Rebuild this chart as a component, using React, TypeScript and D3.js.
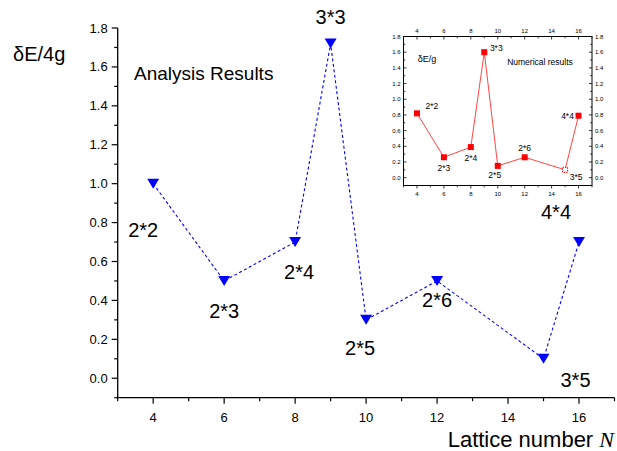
import React from "react";
import * as d3 from "d3";

const latticeN = [4, 6, 8, 9, 10, 12, 15, 16];
const latticeLabels = ["2*2", "2*3", "2*4", "3*3", "2*5", "2*6", "3*5", "4*4"];
const analysisValues = [1.0, 0.5, 0.7, 1.72, 0.3, 0.5, 0.1, 0.7];
const numericalValues = [0.82, 0.26, 0.39, 1.6, 0.15, 0.26, 0.1, 0.79];
const xTickValues = [4, 6, 8, 10, 12, 14, 16];
const yTickValues = [0.0, 0.2, 0.4, 0.6, 0.8, 1.0, 1.2, 1.4, 1.6, 1.8];

// label offsets (px) relative to marker
const mainLabelOffsets: [number, number][] = [
  [-10, 46], [0, 30], [4, 30], [0, -27], [-6, 28], [0, 19], [32, 21], [-23, -30],
];
const insetLabelOffsets: [number, number][] = [
  [15, -7], [0, 11], [0, 11], [12, -4], [-3, 9], [0, -9], [11, 7], [-11, 0],
];

const FONT = "'Liberation Sans', Arial, Helvetica, sans-serif";

export default function App() {
  const W = 617, H = 451;
  const x = d3.scaleLinear().domain([3, 17]).range([117.7, 614.5]);
  const y = d3.scaleLinear().domain([-0.1, 1.8]).range([397.7, 28]);

  const xi = d3.scaleLinear().domain([3, 17]).range([403.5, 592]);
  const yi = d3.scaleLinear().domain([-0.1, 1.8]).range([185.5, 36.5]);

  const line = d3.line<number>().x((_, i) => x(latticeN[i])).y((v) => y(v));
  const lineI = d3.line<number>().x((_, i) => xi(latticeN[i])).y((v) => yi(v));

  const xMinor = d3.range(3, 17.01, 1);
  const yMinor = d3.range(-0.1, 1.801, 0.1);

  const x0 = x.range()[0], x1 = x.range()[1];
  const y0 = y.range()[0], y1 = y.range()[1];
  const ix0 = xi.range()[0], ix1 = xi.range()[1];
  const iy0 = yi.range()[0], iy1 = yi.range()[1];

  const tri = (cx: number, cy: number) =>
    `M${cx - 6},${cy - 5}L${cx + 6},${cy - 5}L${cx},${cy + 5}Z`;

  return (
    <svg width={W} height={H} style={{ position: "absolute", left: 0, top: 0, background: "#fff" }} fontFamily={FONT}>
      <rect x={0} y={0} width={W} height={H} fill="#fff" />
      {/* main axes */}
      <line x1={x0} x2={x1} y1={y0} y2={y0} stroke="#000" strokeWidth={1.3} />
      <line x1={x0} x2={x0} y1={y0} y2={y1} stroke="#000" strokeWidth={1.3} />
      {xMinor.map((t) => (
        <line key={"xm" + t} x1={x(t)} x2={x(t)} y1={y0} y2={y0 + (t % 2 === 0 ? 6 : 3.5)} stroke="#000" strokeWidth={1.2} />
      ))}
      {xTickValues.map((t) => (
        <text key={"xt" + t} x={x(t)} y={y0 + 24} textAnchor="middle" fontSize={13}>{t}</text>
      ))}
      {yMinor.map((t, i) => (
        <line key={"ym" + i} x1={x0} x2={x0 - (i % 2 === 1 ? 6 : 3.5)} y1={y(t)} y2={y(t)} stroke="#000" strokeWidth={1.2} />
      ))}
      {yTickValues.map((t) => (
        <text key={"yt" + t} x={x0 - 10} y={y(t) + 4.5} textAnchor="end" fontSize={13}>{t.toFixed(1)}</text>
      ))}
      <text x={13} y={61} fontSize={20}>δE/4g</text>
      <text x={614} y={447} textAnchor="end" fontSize={22}>
        Lattice number <tspan fontFamily="'Liberation Serif', 'Times New Roman', serif" fontStyle="italic">N</tspan>
      </text>
      <text x={134} y={80} fontSize={19}>Analysis Results</text>

      {/* main series */}
      <path d={line(analysisValues) || ""} fill="none" stroke="#0000ff" strokeWidth={1.1} strokeDasharray="3,2.5" />
      {analysisValues.map((v, i) => (
        <path key={"m" + i} d={tri(x(latticeN[i]), y(v))} fill="#0000ff" />
      ))}
      {analysisValues.map((v, i) => (
        <text key={"ml" + i} x={x(latticeN[i]) + mainLabelOffsets[i][0]} y={y(v) + mainLabelOffsets[i][1] + 7} textAnchor="middle" fontSize={20}>
          {latticeLabels[i]}
        </text>
      ))}

      {/* inset */}
      <rect x={ix0} y={iy1} width={ix1 - ix0} height={iy0 - iy1} fill="#fff" stroke="#000" strokeWidth={1} />
      {xMinor.map((t) => (
        <g key={"ixm" + t}>
          <line x1={xi(t)} x2={xi(t)} y1={iy1} y2={iy1 + (t % 2 === 0 ? 3 : 1.8)} stroke="#000" strokeWidth={0.8} />
          <line x1={xi(t)} x2={xi(t)} y1={iy0} y2={iy0 + (t % 2 === 0 ? 3 : 1.8)} stroke="#000" strokeWidth={0.8} />
        </g>
      ))}
      {xTickValues.map((t) => (
        <g key={"ixt" + t}>
          <text x={xi(t)} y={iy1 - 4} textAnchor="middle" fontSize={6}>{t}</text>
          <text x={xi(t)} y={iy0 + 10} textAnchor="middle" fontSize={6}>{t}</text>
        </g>
      ))}
      {yMinor.map((t, i) => (
        <g key={"iym" + i}>
          <line x1={ix0} x2={ix0 + (i % 2 === 1 ? 3 : 1.8)} y1={yi(t)} y2={yi(t)} stroke="#000" strokeWidth={0.8} />
          <line x1={ix1} x2={ix1 - (i % 2 === 1 ? 3 : 1.8)} y1={yi(t)} y2={yi(t)} stroke="#000" strokeWidth={0.8} />
        </g>
      ))}
      {yTickValues.map((t) => (
        <g key={"iyt" + t}>
          <text x={ix0 - 3} y={yi(t) + 2} textAnchor="end" fontSize={6}>{t.toFixed(1)}</text>
          <text x={ix1 + 3} y={yi(t) + 2} textAnchor="start" fontSize={6}>{t.toFixed(1)}</text>
        </g>
      ))}
      <text x={427} y={62} textAnchor="middle" fontSize={9}>δE/g</text>
      <text x={540} y={65} textAnchor="middle" fontSize={8.5}>Numerical results</text>
      <path d={lineI(numericalValues) || ""} fill="none" stroke="#ff3030" strokeWidth={0.9} />
      {numericalValues.map((v, i) =>
        latticeN[i] === 15 ? (
          <rect key={"ip" + i} x={xi(latticeN[i]) - 2.5} y={yi(v) - 2.5} width={5} height={5} fill="#fff" stroke="#ff0000" strokeWidth={1} strokeDasharray="1.5,1" />
        ) : (
          <rect key={"ip" + i} x={xi(latticeN[i]) - 3} y={yi(v) - 3} width={6} height={6} fill="#ff0000" />
        )
      )}
      {numericalValues.map((v, i) => (
        <text key={"il" + i} x={xi(latticeN[i]) + insetLabelOffsets[i][0]} y={yi(v) + insetLabelOffsets[i][1] + 3} textAnchor="middle" fontSize={8.5}>
          {latticeLabels[i]}
        </text>
      ))}
    </svg>
  );
}
